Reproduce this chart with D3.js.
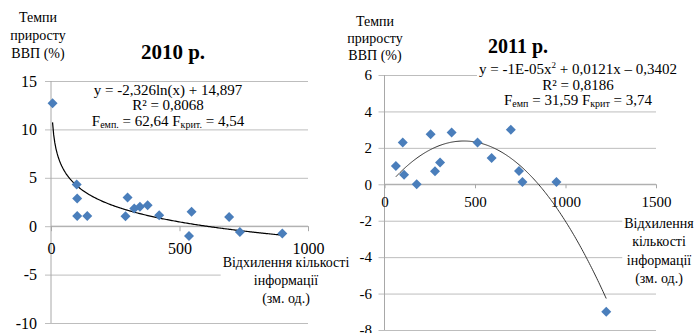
<!DOCTYPE html>
<html>
<head>
<meta charset="utf-8"/>
<script src="https://d3js.org/d3.v7.min.js"></script>
<style>
  body { margin: 0; background: #fff; }
  svg text { font-family: "Liberation Serif", "DejaVu Serif", serif; fill: #000; }
</style>
</head>
<body>
<script>
// ---- data ----
// 2010
var x2010 = [6, 100, 102, 102, 141, 290, 298, 324, 346, 376, 421, 537, 547, 693, 735, 900];
var y2010 = [12.7, 4.3, 2.86, 1.06, 1.06, 1.03, 2.96, 1.83, 2.0, 2.17, 1.14, -1.0, 1.48, 0.96, -0.59, -0.76];
var xTicks2010 = [0, 500, 1000];
var yTicks2010 = [-10, -5, 0, 5, 10, 15];
var trend2010 = [-2.326, 14.897];   // y = a*ln(x) + b

// 2011
var x2011 = [63, 101, 108, 178, 255, 279, 307, 371, 514, 592, 698, 743, 762, 950, 1225];
var y2011 = [1.0, 2.3, 0.53, 0.0, 2.75, 0.72, 1.2, 2.84, 2.3, 1.45, 3.0, 0.73, 0.13, 0.13, -7.0];
var xTicks2011 = [0, 500, 1000, 1500];
var yTicks2011 = [-8, -6, -4, -2, 0, 2, 4, 6];

var yTitle = ["Темпи", "приросту", "ВВП (%)"];
var xTitle2010 = ["Відхилення кількості", "інформації", "(зм. од.)"];
var xTitle2011 = ["Відхилення", "кількості", "інформації", "(зм. од.)"];

var blue = "#4a7ebb";
var gridCol = "#bdbdbd";
var serif = "'Liberation Serif', 'DejaVu Serif', serif";
var plain = function(d){ return String(d); };   // hyphen minus like the original

var svg = d3.select("body").append("svg")
  .attr("width", 695).attr("height", 333)
  .attr("font-family", serif);

// white box behind a text element
function backBox(t, pad) {
  var b = t.node().getBBox();
  svg.insert("rect", function(){ return t.node(); })
    .attr("x", b.x - pad).attr("y", b.y).attr("width", b.width + 2*pad).attr("height", b.height)
    .attr("fill", "#fff");
}

function multiLine(lines, cx, y0, dy, size) {
  var t = svg.append("text").attr("text-anchor", "middle").attr("font-size", size)
    .attr("font-family", serif);
  lines.forEach(function(s, i){
    t.append("tspan").attr("x", cx).attr("y", y0 + i*dy).text(s);
  });
  return t;
}

// draws grid + axes for one panel
function frame(x, y, xt, yt, fs, yPad, xPad, tick) {
  var x0 = x.range()[0], x1 = x.range()[1];
  var ga = svg.append("g").attr("transform", "translate(" + x0 + ",0)")
    .call(d3.axisLeft(y).tickValues(yt).tickSize(0).tickPadding(yPad).tickFormat(plain));
  ga.select(".domain").remove();
  ga.selectAll(".tick line").attr("x1", -6).attr("x2", x1 - x0).attr("stroke", gridCol);
  ga.selectAll(".tick text").attr("font-size", fs).attr("fill", "#000").attr("font-family", serif);
  ga.attr("font-family", serif);

  svg.append("line").attr("x1", x0).attr("x2", x0)
    .attr("y1", y.range()[1]).attr("y2", y.range()[0]).attr("stroke", "#a8a8a8");

  var gb = svg.append("g").attr("transform", "translate(0," + y(0) + ")")
    .call(d3.axisBottom(x).tickValues(xt).tickSize(tick).tickPadding(xPad).tickFormat(plain));
  gb.select(".domain").attr("stroke", "#a8a8a8").attr("d", "M" + x0 + ",0H" + x1);
  gb.selectAll(".tick line").attr("stroke", "#a8a8a8");
  gb.selectAll(".tick text").attr("font-size", fs).attr("fill", "#000").attr("font-family", serif);
  gb.attr("font-family", serif);
}

function diamonds(xs, ys, x, y) {
  svg.append("g").selectAll("path").data(xs).enter().append("path")
    .attr("transform", function(d, i){ return "translate(" + x(d) + "," + y(ys[i]) + ")"; })
    .attr("d", "M0,-5L5,0L0,5L-5,0Z")
    .attr("fill", blue);
}

// ================= 2010 =================
var xa = d3.scaleLinear().domain([0, 1000]).range([51, 308]);
var ya = d3.scaleLinear().domain([-10, 15]).range([323, 81]);
frame(xa, ya, xTicks2010, yTicks2010, 16, 14, 11, 5);

var ta = multiLine(xTitle2010, 286, 266.5, 18.3, 14);
backBox(ta, 2);

var ln = d3.range(0, 201).map(function(i){
  var xv = d3.min(x2010) + (d3.max(x2010) - d3.min(x2010)) * i / 200;
  return [xa(xv), ya(trend2010[0] * Math.log(xv) + trend2010[1])];
});
svg.append("path").attr("d", d3.line()(ln)).attr("fill", "none")
  .attr("stroke", "#000").attr("stroke-width", 1.2);

diamonds(x2010, y2010, xa, ya);

multiLine(yTitle, 38, 21.5, 18, 14);
svg.append("text").attr("x", 173).attr("y", 59).attr("text-anchor", "middle")
  .attr("font-size", 21).attr("font-weight", "bold").text("2010 р.");

var ea = svg.append("text").attr("text-anchor", "middle").attr("font-size", 15);
ea.append("tspan").attr("x", 168).attr("y", 94.5).text("y = -2,326ln(x) + 14,897");
ea.append("tspan").attr("x", 168).attr("y", 110).text("R² = 0,8068");
var l3 = svg.append("text").attr("text-anchor", "middle").attr("font-size", 15).attr("x", 168).attr("y", 125.5);
l3.append("tspan").text("F");
l3.append("tspan").attr("font-size", 10).attr("dy", 2).text("емп.");
l3.append("tspan").attr("dy", -2).text(" = 62,64 F");
l3.append("tspan").attr("font-size", 10).attr("dy", 2).text("крит.");
l3.append("tspan").attr("dy", -2).text(" = 4,54");

// ================= 2011 =================
var xb = d3.scaleLinear().domain([0, 1500]).range([384.5, 656]);
var yb = d3.scaleLinear().domain([-8, 6]).range([330, 75]);
frame(xb, yb, xTicks2011, yTicks2011, 15, 12.5, 8, 4);

var tb = multiLine(xTitle2011, 659, 228, 18.3, 14);
backBox(tb, 2);

// least squares quadratic through the 2011 points
function quadFit(xs, ys) {
  var s = [0,0,0,0,0], t = [0,0,0];
  xs.forEach(function(xv, i){
    var p = 1;
    for (var k = 0; k < 5; k++) { s[k] += p; if (k < 3) t[k] += p * ys[i]; p *= xv; }
  });
  var A = [[s[0], s[1], s[2], t[0]], [s[1], s[2], s[3], t[1]], [s[2], s[3], s[4], t[2]]];
  for (var c = 0; c < 3; c++) {
    for (var r = c + 1; r < 3; r++) {
      var f = A[r][c] / A[c][c];
      for (var k = c; k < 4; k++) A[r][k] -= f * A[c][k];
    }
  }
  var co = [0,0,0];
  for (var r = 2; r >= 0; r--) {
    var v = A[r][3];
    for (var k = r + 1; k < 3; k++) v -= A[r][k] * co[k];
    co[r] = v / A[r][r];
  }
  return co; // c0 + c1 x + c2 x^2
}
var q = quadFit(x2011, y2011);
var qd = d3.range(0, 201).map(function(i){
  var xv = d3.min(x2011) + (d3.max(x2011) - d3.min(x2011)) * i / 200;
  return [xb(xv), yb(q[0] + q[1]*xv + q[2]*xv*xv)];
});
svg.append("path").attr("d", d3.line()(qd)).attr("fill", "none")
  .attr("stroke", "#333").attr("stroke-width", 1);

diamonds(x2011, y2011, xb, yb);

multiLine(yTitle, 375, 25.5, 17, 14);
svg.append("text").attr("x", 518).attr("y", 53).attr("text-anchor", "middle")
  .attr("font-size", 20).attr("font-weight", "bold").text("2011 р.");

var eb = svg.append("text").attr("text-anchor", "middle").attr("font-size", 15).attr("x", 578).attr("y", 74);
eb.append("tspan").text("y = -1E-05x");
eb.append("tspan").attr("font-size", 9).attr("dy", -6).text("2");
eb.append("tspan").attr("dy", 6).text(" + 0,0121x – 0,3402");
var eb2 = svg.append("text").attr("text-anchor", "middle").attr("font-size", 15).attr("x", 578).attr("y", 89.5);
eb2.append("tspan").text("R² = 0,8186");
var eb3 = svg.append("text").attr("text-anchor", "middle").attr("font-size", 15).attr("x", 578).attr("y", 105);
eb3.append("tspan").text("F");
eb3.append("tspan").attr("font-size", 10).attr("dy", 2).text("емп");
eb3.append("tspan").attr("dy", -2).text(" = 31,59 F");
eb3.append("tspan").attr("font-size", 10).attr("dy", 2).text("крит");
eb3.append("tspan").attr("dy", -2).text(" = 3,74");
backBox(eb, 2);
backBox(eb2, 2);
backBox(eb3, 2);
</script>
</body>
</html>
